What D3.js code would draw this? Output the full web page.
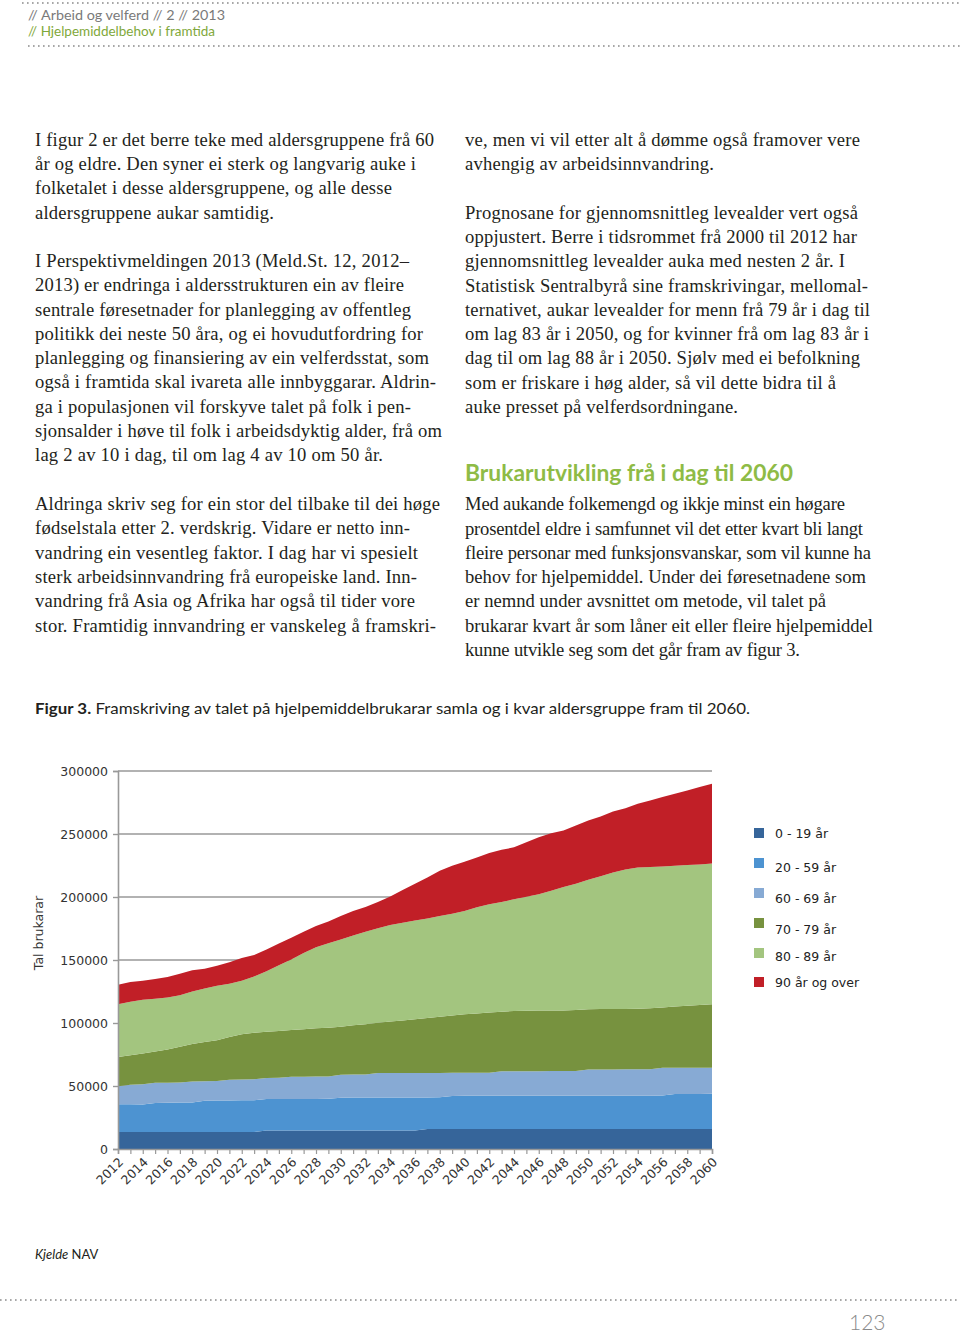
<!DOCTYPE html>
<html>
<head>
<meta charset="utf-8">
<script src="https://cdn.jsdelivr.net/npm/d3@7"></script>
<style>
  html, body { margin: 0; padding: 0; background: #fff; }
  svg { display: block; }
</style>
</head>
<body>
<svg id="page" width="960" height="1334"></svg>
<script>
// ---------------- DATA ----------------
const years = d3.range(2012, 2061);
const groups = ["0 - 19 år", "20 - 59 år", "60 - 69 år", "70 - 79 år", "80 - 89 år", "90 år og over"];
const colors = ["#36659a", "#4d93d1", "#87aad4", "#77923f", "#a3c57f", "#c11f27"];

const age0_19 = [13400,13400,13400,13400,13400,13400,13400,13400,13400,13400,13400,13400,
  14700,14700,14700,14700,14700,14700,14700,14700,14700,14700,14700,14700,14700,
  15900,15900,15900,15900,15900,15900,15900,15900,15900,15900,15900,15900,15900,15900,15900,15900,15900,15900,15900,15900,15900,15900,15900,15900];
const age20_59 = [22200,22100,22000,23200,23400,23500,23600,24800,25000,25100,25200,25300,
  24900,25000,25000,25000,25000,25100,26000,26100,26100,26100,26200,26200,26200,
  25000,25100,26200,26300,26300,26300,26300,26400,26400,26400,26400,26400,26400,26400,26400,26400,26400,26400,26400,26500,27700,27800,27800,27900];
const age60_69 = [14200,15500,16000,15900,15800,15800,16600,15600,15500,16500,16600,16600,
  16800,16900,17600,17700,17800,17800,18200,18300,18400,19500,19500,19500,19500,
  19500,19400,18400,18300,18300,18300,19600,19500,19500,19500,19600,19600,19600,20800,20800,20800,20900,20900,20900,22000,20800,20700,20800,20700];
const age70_79 = [23300,23500,24400,24800,26400,28500,29700,31200,32500,33800,35800,36900,
  36700,37000,37100,37600,38300,38700,38200,39100,39800,39900,40700,41600,42500,
  43600,44600,45500,46400,47000,47800,47200,47800,48000,48100,48000,48100,48400,47800,48000,48100,48000,48100,48500,47900,48600,49200,49700,50400];
const age80_89 = [41800,42300,42600,42000,41200,40800,41700,42300,43100,42400,42500,44800,
  47900,52200,55900,60500,64300,66900,69200,71300,73400,75000,76600,77600,78500,
  79000,79900,80800,82000,84300,85900,87000,88600,90400,92300,95100,98000,100200,102700,105400,108300,110600,112100,112100,111900,111800,111700,111600,111700];
const age90plus = [15400,15700,15100,15600,16300,17100,16800,15800,16000,17000,18100,17000,
  17300,17300,17300,16900,16800,17400,18600,19400,19700,20800,22600,26000,29100,
  32500,35900,38000,39100,39600,40700,41500,41200,43200,45200,45600,44700,46200,47100,47400,48400,48700,50600,52800,55100,57200,59300,61500,63300];

const yTicks = [0, 50000, 100000, 150000, 200000, 250000, 300000];
const xLabelYears = d3.range(2012, 2061, 2);

// ---------------- PAGE TEXT ----------------
const leftCol = [
  "I figur 2 er det berre teke med aldersgruppene frå 60",
  "år og eldre. Den syner ei sterk og langvarig auke i",
  "folketalet i desse aldersgruppene, og alle desse",
  "aldersgruppene aukar samtidig.",
  "I Perspektivmeldingen 2013 (Meld.St. 12, 2012–",
  "2013) er endringa i aldersstrukturen ein av fleire",
  "sentrale føresetnader for planlegging av offentleg",
  "politikk dei neste 50 åra, og ei hovudutfordring for",
  "planlegging og finansiering av ein velferdsstat, som",
  "også i framtida skal ivareta alle innbyggarar. Aldrin-",
  "ga i populasjonen vil forskyve talet på folk i pen-",
  "sjonsalder i høve til folk i arbeidsdyktig alder, frå om",
  "lag 2 av 10 i dag, til om lag 4 av 10 om 50 år.",
  "Aldringa skriv seg for ein stor del tilbake til dei høge",
  "fødselstala etter 2. verdskrig. Vidare er netto inn-",
  "vandring ein vesentleg faktor. I dag har vi spesielt",
  "sterk arbeidsinnvandring frå europeiske land. Inn-",
  "vandring frå Asia og Afrika har også til tider vore",
  "stor. Framtidig innvandring er vanskeleg å framskri-"
];
const rightCol = [
  "ve, men vi vil etter alt å dømme også framover vere",
  "avhengig av arbeidsinnvandring.",
  "Prognosane for gjennomsnittleg levealder vert også",
  "oppjustert. Berre i tidsrommet frå 2000 til 2012 har",
  "gjennomsnittleg levealder auka med nesten 2 år. I",
  "Statistisk Sentralbyrå sine framskrivingar, mellomal-",
  "ternativet, aukar levealder for menn frå 79 år i dag til",
  "om lag 83 år i 2050, og for kvinner frå om lag 83 år i",
  "dag til om lag 88 år i 2050. Sjølv med ei befolkning",
  "som er friskare i høg alder, så vil dette bidra til å",
  "auke presset på velferdsordningane.",
  "Med aukande folkemengd og ikkje minst ein høgare",
  "prosentdel eldre i samfunnet vil det etter kvart bli langt",
  "fleire personar med funksjonsvanskar, som vil kunne ha",
  "behov for hjelpemiddel. Under dei føresetnadene som",
  "er nemnd under avsnittet om metode, vil talet på",
  "brukarar kvart år som låner eit eller fleire hjelpemiddel",
  "kunne utvikle seg som det går fram av figur 3."
];
// layout of the text lines (line centre y, right end x)
const leftLayout = [[140,434],[164,416],[188,392],[213,274],[261,409],[285,404],[310,411],[334,423],[358,429],[382,436],
  [407,411],[431,442],[455,383],[504,440],[528,410],[553,418],[577,417],[601,415],[626,436]];
const rightLayout = [[140,860],[164,714],[213,858],[237,857],[261,845],[286,868],[310,870],[334,869],[358,860],[383,836],
  [407,738],[504,845],[529,863],[553,871],[577,866],[601,826],[626,873],[650,800]];

// ---------------- DRAW ----------------
const svg = d3.select("#page");

function dotted(yy, x1, x2) {
  svg.append("line").attr("x1", x1).attr("x2", x2).attr("y1", yy).attr("y2", yy)
    .attr("stroke", "#8a8a8a").attr("stroke-width", 1.6)
    .attr("stroke-dasharray", "1.6,3.4");
}
dotted(3, 22, 960);
dotted(46, 28, 960);
dotted(1300, 0, 960);

// header
svg.append("text").attr("x", 28).attr("y", 20)
  .attr("font-family", "Lato, 'Open Sans', sans-serif").attr("font-size", 13.5)
  .attr("fill", "#7a7a7a").attr("textLength", 197).attr("lengthAdjust", "spacingAndGlyphs")
  .text("// Arbeid og velferd // 2 // 2013");
svg.append("text").attr("x", 28).attr("y", 36)
  .attr("font-family", "Lato, 'Open Sans', sans-serif").attr("font-size", 13.5)
  .attr("fill", "#7fa83a").attr("textLength", 187).attr("lengthAdjust", "spacingAndGlyphs")
  .text("// Hjelpemiddelbehov i framtida");

// body text
const bodyFont = "'Liberation Serif', 'Times New Roman', serif";
function col(lines, layout, x0) {
  svg.append("g").selectAll("text").data(lines).join("text")
    .attr("x", x0).attr("y", (d, i) => layout[i][0] + 6)
    .attr("font-family", bodyFont).attr("font-size", 18.6)
    .attr("fill", "#231f20")
    .attr("textLength", (d, i) => layout[i][1] - x0)
    .attr("lengthAdjust", "spacing")
    .text(d => d);
}
col(leftCol, leftLayout, 35);
col(rightCol, rightLayout, 465);

svg.append("text").attr("x", 465).attr("y", 481)
  .attr("font-family", "Lato, 'Open Sans', sans-serif").attr("font-weight", "bold")
  .attr("font-size", 22).attr("fill", "#8ebb46")
  .attr("textLength", 328).attr("lengthAdjust", "spacingAndGlyphs")
  .text("Brukarutvikling frå i dag til 2060");

// caption
const cap = svg.append("text").attr("x", 35).attr("y", 714)
  .attr("font-family", "Lato, 'Open Sans', sans-serif").attr("font-size", 16)
  .attr("fill", "#231f20").attr("textLength", 715).attr("lengthAdjust", "spacingAndGlyphs");
cap.append("tspan").attr("font-weight", "bold").text("Figur 3.");
cap.append("tspan").text(" Framskriving av talet på hjelpemiddelbrukarar samla og i kvar aldersgruppe fram til 2060.");

// ---------------- CHART ----------------
const x = d3.scaleLinear().domain([2012, 2060]).range([118, 712]);
const y = d3.scaleLinear().domain([0, 300000]).range([1149, 771]);

const series = [age0_19, age20_59, age60_69, age70_79, age80_89, age90plus];
const table = years.map((yr, i) => {
  const row = { year: yr };
  groups.forEach((g, k) => row[g] = series[k][i]);
  return row;
});
const stacked = d3.stack().keys(groups)(table);

// gridlines
svg.append("g").selectAll("line").data(yTicks.filter(v => v > 0)).join("line")
  .attr("x1", x(2012)).attr("x2", x(2060))
  .attr("y1", d => y(d)).attr("y2", d => y(d))
  .attr("stroke", "#999").attr("stroke-width", 1.6);

const area = d3.area()
  .x(d => x(d.data.year))
  .y0(d => y(d[0]))
  .y1(d => y(d[1]));

svg.append("g").selectAll("path").data(stacked).join("path")
  .attr("d", area)
  .attr("fill", (d, i) => colors[i]);

// y axis
const yAxis = svg.append("g").attr("transform", `translate(${x(2012)},0)`)
  .call(d3.axisLeft(y).tickValues(yTicks).tickSize(5).tickPadding(5).tickFormat(d3.format("d")));
yAxis.select(".domain").attr("stroke", "#999").attr("stroke-width", 1.6);
yAxis.selectAll(".tick line").attr("stroke", "#999").attr("stroke-width", 1.4);
yAxis.selectAll("text").attr("font-family", "'DejaVu Sans', Verdana, sans-serif")
  .attr("font-size", 12.5).attr("fill", "#333");

// x axis
const xAxis = svg.append("g").attr("transform", `translate(0,${y(0)})`)
  .call(d3.axisBottom(x).tickValues(years).tickSize(5).tickFormat(""));
xAxis.select(".domain").attr("stroke", "#999").attr("stroke-width", 1.6);
xAxis.selectAll(".tick line").attr("stroke", "#999").attr("stroke-width", 1.2);

svg.append("g").selectAll("text").data(xLabelYears).join("text")
  .attr("transform", d => `translate(${x(d) + 6},${y(0) + 14}) rotate(-45)`)
  .attr("text-anchor", "end")
  .attr("font-family", "'DejaVu Sans', Verdana, sans-serif")
  .attr("font-size", 12.5).attr("fill", "#333")
  .text(d => d);

// y title
svg.append("text")
  .attr("transform", `translate(43,933) rotate(-90)`)
  .attr("text-anchor", "middle")
  .attr("font-family", "'DejaVu Sans', Verdana, sans-serif")
  .attr("font-size", 12.5).attr("fill", "#333")
  .text("Tal brukarar");

// legend
const legendRows = [
  { sq: 833, tx: 833 }, { sq: 863, tx: 867 }, { sq: 893, tx: 898 },
  { sq: 923, tx: 929 }, { sq: 953, tx: 956 }, { sq: 982, tx: 982 }
];
const leg = svg.append("g");
groups.forEach((g, i) => {
  leg.append("rect").attr("x", 754).attr("y", legendRows[i].sq - 5)
    .attr("width", 10).attr("height", 10).attr("fill", colors[i]);
  leg.append("text").attr("x", 775).attr("y", legendRows[i].tx + 4.5)
    .attr("font-family", "'DejaVu Sans', Verdana, sans-serif")
    .attr("font-size", 12.5).attr("fill", "#222")
    .text(g);
});

// source
const src = svg.append("text").attr("x", 35).attr("y", 1259)
  .attr("font-family", "Lato, 'Open Sans', sans-serif").attr("font-size", 13)
  .attr("fill", "#231f20");
src.append("tspan").attr("font-style", "italic").text("Kjelde");
src.append("tspan").text(" NAV");

// page number
svg.append("text").attr("x", 849).attr("y", 1330)
  .attr("font-family", "Lato, 'Open Sans', sans-serif").attr("font-weight", 300)
  .attr("font-size", 21).attr("fill", "#8a8a8a")
  .text("123");
</script>
</body>
</html>
